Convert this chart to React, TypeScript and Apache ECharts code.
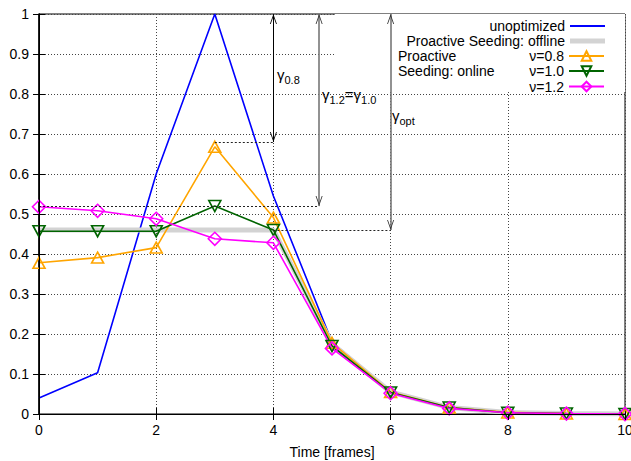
import React, { useEffect, useRef } from "react";
import * as echarts from "echarts";

const frames = [0, 1, 2, 3, 4, 5, 6, 7, 8, 9, 10];
const unoptimized = [0.04, 0.103, 0.6, 1.0, 0.545, 0.18, 0.056, 0.017, 0.004, 0.001, 0];
const offline = [0.46, 0.46, 0.46, 0.46, 0.46, 0.175, 0.055, 0.016, 0.004, 0.001, 0];
const nu08 = [0.378, 0.391, 0.416, 0.668, 0.491, 0.178, 0.055, 0.016, 0.004, 0.001, 0];
const nu10 = [0.457, 0.457, 0.457, 0.52, 0.46, 0.17, 0.054, 0.016, 0.003, 0.001, 0];
const nu12 = [0.518, 0.508, 0.488, 0.438, 0.428, 0.164, 0.052, 0.014, 0.003, 0.001, 0];

const seriesNames = ["unoptimized", "Proactive Seeding: offline", "ν=0.8", "ν=1.0", "ν=1.2"];

// annotation levels (gamma values) and arrow positions
const gammaLevels = [0.68, 0.52, 0.46];
const arrowX = [4, 4.78, 6];
const dottedFromX = [3.0, 0, 4];

const FONT = "'Liberation Sans', Arial, sans-serif";

const pairs = (ys: number[]) => frames.map((x, i) => [x, ys[i]]);

const chevron = "path://M5,0 L10,10 L8.8,10 L5,2.4 L1.2,10 L0,10 Z";
const downTri = "path://M0,0 L10,0 L5,9 Z";

export default function App() {
  const ref = useRef<HTMLDivElement>(null);
  useEffect(() => {
    if (!ref.current) return;
    const chart = echarts.init(ref.current, null, { renderer: "svg" });

    const markerSeries = (name: string, data: number[], color: string, symbol: string, size: number | number[]) => ({
      name,
      type: "line",
      data: pairs(data),
      symbol,
      symbolSize: size,
      showSymbol: true,
      lineStyle: { color, width: 1.6 },
      itemStyle: { color: "rgba(255,255,255,0)", borderColor: color, borderWidth: 1.6 },
      z: 3,
    });

    const arrowColors = ["#000", "#777", "#777"];
    const arrowShafts = arrowX.map((x, i) => [
      { coord: [x, 1], lineStyle: { color: arrowColors[i], width: i === 0 ? 1 : 1.6, type: "solid" } },
      { coord: [x, gammaLevels[i]] },
    ]);
    const dottedLines = gammaLevels.map((g, i) => [
      { coord: [dottedFromX[i], g], lineStyle: { color: "#222", width: 1, type: [2, 2] } },
      { coord: [arrowX[i], g] },
    ]);
    const arrowHeads: any[] = [];
    arrowX.forEach((x, i) => {
      arrowHeads.push({ coord: [x, 1], symbolOffset: [0, 5], symbolRotate: 0, itemStyle: { color: i === 0 ? "#000" : "#333" } });
      arrowHeads.push({ coord: [x, gammaLevels[i]], symbolOffset: [0, -5], symbolRotate: 180, itemStyle: { color: i === 0 ? "#000" : "#333" } });
    });

    const legendTops = [19, 34, 49, 64, 79.5];
    const legendIcons: (string | undefined)[] = ["rect", "rect", undefined, undefined, undefined];
    const legendIconHeights = [2, 5, 12, 12, 12];

    const option: any = {
      animation: false,
      textStyle: { fontFamily: FONT },
      grid: {
        left: 39,
        right: 6,
        top: 14,
        bottom: 47,
        outerBoundsMode: "none",
        containLabel: false,
        show: true,
        borderColor: "#000",
        borderWidth: 1,
      },
      legend: seriesNames.map((n, i) => {
        const l: any = {
          data: [n],
          right: 26,
          top: legendTops[i],
          orient: "vertical",
          align: "right",
          padding: 0,
          itemWidth: 35,
          itemHeight: legendIconHeights[i],
          selectedMode: false,
          textStyle: { fontSize: 14, lineHeight: 14, color: "#000", fontFamily: FONT },
        };
        if (legendIcons[i]) l.icon = legendIcons[i];
        return l;
      }),
      xAxis: [
        {
          type: "value",
          min: 0,
          max: 10,
          interval: 2,
          position: "bottom",
          name: "Time [frames]",
          nameLocation: "middle",
          nameGap: 31,
          nameTextStyle: { fontSize: 14, color: "#000", fontFamily: FONT },
          axisLine: { show: true, lineStyle: { color: "#000", width: 1 } },
          axisTick: { show: true, inside: true, length: 6, lineStyle: { color: "#000" } },
          axisLabel: { fontSize: 14, color: "#000", margin: 9, fontFamily: FONT },
          splitLine: { show: true, lineStyle: { color: "#444", width: 1, type: [1, 2] } },
        },
        {
          type: "value",
          min: 0,
          max: 10,
          interval: 2,
          position: "top",
          z: 5,
          axisLine: { show: true, lineStyle: { color: "#000", width: 1 } },
          axisTick: { show: true, inside: true, length: 6, lineStyle: { color: "#000" } },
          axisLabel: { show: false },
          splitLine: { show: false },
        },
      ],
      yAxis: [
        {
          type: "value",
          min: 0,
          max: 1,
          interval: 0.1,
          position: "left",
          axisLine: { show: true, lineStyle: { color: "#000", width: 1.5 } },
          axisTick: { show: true, inside: true, length: 6, lineStyle: { color: "#000" } },
          axisLabel: { fontSize: 14, color: "#000", margin: 10, fontFamily: FONT },
          splitLine: { show: true, lineStyle: { color: "#444", width: 1, type: [1, 2] } },
        },
        {
          type: "value",
          min: 0,
          max: 1,
          interval: 0.1,
          position: "right",
          z: 5,
          axisLine: { show: true, lineStyle: { color: "#000", width: 1 } },
          axisTick: { show: true, inside: true, length: 6, lineStyle: { color: "#000" } },
          axisLabel: { show: false },
          splitLine: { show: false },
        },
      ],
      series: [
        {
          name: "keybox",
          type: "line",
          data: [],
          silent: true,
          markArea: {
            silent: true,
            itemStyle: { color: "#fff", opacity: 1 },
            data: [[{ coord: [5.05, 0.805] }, { coord: [10, 1] }]],
          },
        },
        {
          name: "unoptimized",
          type: "line",
          data: pairs(unoptimized),
          symbol: "none",
          lineStyle: { color: "#0000ff", width: 1.6 },
          itemStyle: { color: "#0000ff" },
          z: 2,
        },
        {
          name: "Proactive Seeding: offline",
          type: "line",
          data: pairs(offline),
          symbol: "none",
          lineStyle: { color: "#d3d3d3", width: 5 },
          itemStyle: { color: "#d3d3d3" },
          z: 2,
        },
        markerSeries("ν=0.8", nu08, "#ffa500", "triangle", [12, 11]),
        markerSeries("ν=1.0", nu10, "#006400", downTri, [12, 11]),
        markerSeries("ν=1.2", nu12, "#ff00ff", "diamond", [13, 13]),
        {
          name: "annotations",
          type: "line",
          data: [],
          silent: true,
          z: 4,
          markLine: {
            silent: true,
            symbol: ["none", "none"],
            label: { show: false },
            emphasis: { disabled: true },
            lineStyle: { color: "#000", width: 1, type: "solid" },
            data: [...dottedLines, ...arrowShafts],
          },
          markPoint: {
            silent: true,
            symbol: chevron,
            symbolSize: [7, 10],
            label: { show: false },
            emphasis: { disabled: true },
            data: arrowHeads,
          },
        },
      ],
      graphic: [
        {
          type: "text",
          x: 398,
          y: 49,
          style: {
            text: "Proactive\nSeeding: online",
            fontSize: 14,
            fontFamily: FONT,
            fill: "#000",
            lineHeight: 14.5,
          },
          z: 10,
        },
        {
          type: "text",
          x: 277,
          y: 67,
          style: {
            text: "{g|γ}{s|0.8}",
            fontFamily: FONT,
            fill: "#000",
            rich: {
              g: { fontSize: 15, lineHeight: 16, verticalAlign: "top", fontFamily: FONT },
              s: { fontSize: 11, lineHeight: 11, padding: [7, 0, 0, 0], verticalAlign: "top", fontFamily: FONT },
            },
          },
          z: 10,
        },
        {
          type: "text",
          x: 322,
          y: 87,
          style: {
            text: "{g|γ}{s|1.2}{g|=γ}{s|1.0}",
            fontFamily: FONT,
            fill: "#000",
            rich: {
              g: { fontSize: 15, lineHeight: 16, verticalAlign: "top", fontFamily: FONT },
              s: { fontSize: 11, lineHeight: 11, padding: [7, 0, 0, 0], verticalAlign: "top", fontFamily: FONT },
            },
          },
          z: 10,
        },
        {
          type: "text",
          x: 392,
          y: 108,
          style: {
            text: "{g|γ}{s|opt}",
            fontFamily: FONT,
            fill: "#000",
            rich: {
              g: { fontSize: 15, lineHeight: 16, verticalAlign: "top", fontFamily: FONT },
              s: { fontSize: 11, lineHeight: 11, padding: [7, 0, 0, 0], verticalAlign: "top", fontFamily: FONT },
            },
          },
          z: 10,
        },
      ],
    };
    chart.setOption(option);
    return () => chart.dispose();
  }, []);
  return <div ref={ref} style={{ width: 631, height: 461, position: "absolute", left: 0, top: 0 }} />;
}
